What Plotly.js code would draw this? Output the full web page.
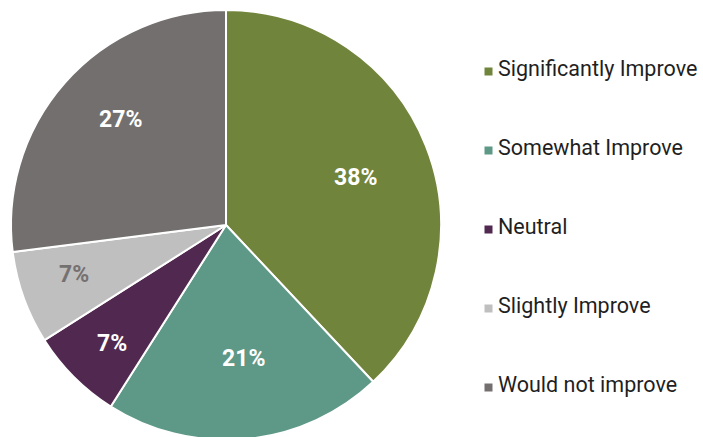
<!DOCTYPE html>
<html><head><meta charset="utf-8">
<script src="https://cdn.plot.ly/plotly-3.0.1.min.js"></script>
<style>html,body{margin:0;padding:0;overflow:hidden;background:#fff;}#chart{width:703px;height:440px;}</style>
</head><body><div id="chart"></div>
<script>
const categories = ["Significantly Improve","Somewhat Improve","Neutral","Slightly Improve","Would not improve"];
const values = [38, 21, 7, 7, 27];
const colors = ["#71843B","#5E9887","#51284F","#BFBFBF","#736F6E"];
const labelColors = ["#FFFFFF","#FFFFFF","#FFFFFF","#767171","#FFFFFF"];
// placement of each data label: radius fraction and angular nudge (degrees)
const labelRadius = [0.642, 0.628, 0.765, 0.744, 0.691];
const labelNudge = [1.5, -2, -1, 1.7, 3.6];

const W = 703, H = 440, TOP = 10;
const plotH = H - TOP;
const CX = 226, CY = 225, R = 215;
const legendX = 496, sqX = 488.5, legendY0 = 68.5, legendStep = 79;
const toPX = x => x / W, toPY = y => (H - y) / plotH;

const annotations = [], shapes = [];
const total = values.reduce((a, b) => a + b, 0);
let cum = 0;
values.forEach((v, i) => {
  const mid = (cum + v / 2) / total * 2 * Math.PI + labelNudge[i] * Math.PI / 180;
  cum += v;
  const r = R * labelRadius[i];
  annotations.push({
    text: Math.round(v / total * 100) + '%', xref: 'paper', yref: 'paper',
    x: toPX(CX + r * Math.sin(mid)), y: toPY(CY - r * Math.cos(mid)),
    xanchor: 'center', yanchor: 'middle', showarrow: false,
    font: {family: 'Roboto', size: 23, color: labelColors[i], weight: 700}
  });
});

categories.forEach((c, i) => {
  const py = legendY0 + legendStep * i;
  annotations.push({
    text: c, xref: 'paper', yref: 'paper',
    x: toPX(legendX), y: toPY(py),
    xanchor: 'left', yanchor: 'middle', showarrow: false,
    font: {family: 'Roboto', size: 21.5, color: '#1F1F1F'}
  });
  const sy = py + 3;
  shapes.push({
    type: 'rect', xref: 'paper', yref: 'paper',
    x0: toPX(sqX - 4), x1: toPX(sqX + 4),
    y0: toPY(sy + 4), y1: toPY(sy - 4),
    fillcolor: colors[i], line: {width: 0}
  });
});

const trace = {
  type: 'pie',
  labels: categories,
  values: values,
  sort: false,
  direction: 'clockwise',
  rotation: 0,
  marker: {colors: colors, line: {color: '#FFFFFF', width: 2}},
  textinfo: 'none',
  hoverinfo: 'none',
  domain: {x: [(CX - R) / W, (CX + R) / W], y: [0, 1]},
  showlegend: false
};

Plotly.newPlot('chart', [trace], {
  width: W, height: H,
  margin: {l: 0, r: 0, t: TOP, b: 0, pad: 0},
  paper_bgcolor: '#FFFFFF', plot_bgcolor: '#FFFFFF',
  showlegend: false,
  annotations: annotations, shapes: shapes
}, {staticPlot: true, displayModeBar: false});
</script></body></html>
